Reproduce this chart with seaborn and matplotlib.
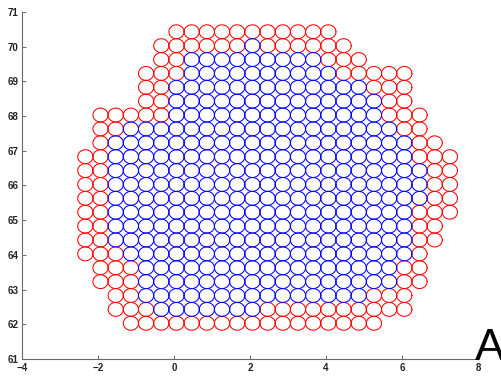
import numpy as np
import pandas as pd
import seaborn as sns
import matplotlib
matplotlib.use("Agg")
import matplotlib.pyplot as plt

# Lattice of cell centres (column x positions, row y positions)
col_x = [-2.34, -1.94, -1.54, -1.14, -0.74, -0.34, 0.06, 0.46, 0.86, 1.26,
         1.66, 2.06, 2.46, 2.86, 3.26, 3.66, 4.06, 4.46, 4.86, 5.26,
         5.66, 6.06, 6.46, 6.86, 7.26]
row_y = [62.03, 62.43, 62.83, 63.23, 63.63, 64.03, 64.43, 64.83, 65.23, 65.63,
         66.03, 66.43, 66.83, 67.23, 67.63, 68.03, 68.43, 68.83, 69.23, 69.63,
         70.03, 70.43]

# First and last occupied column of every row (bottom row first)
row_first = [3, 2, 2, 1, 1, 0, 0, 0, 0, 0, 0, 0, 0, 1, 1, 1, 4, 4, 4, 5, 5, 6]
row_last = [19, 21, 21, 22, 22, 22, 23, 23, 24, 24, 24, 24, 24, 23, 22, 22,
            21, 21, 21, 18, 17, 16]

# Columns of the edge cells (red) in every row; the rest are core cells (blue)
edge_cols = [
    list(range(3, 20)),
    [2, 3, 4] + list(range(12, 22)),
    [2, 3, 19, 20, 21],
    [1, 2, 3, 21, 22],
    [1, 2, 3, 21, 22],
    [0, 1, 2, 22],
    [0, 1, 22, 23],
    [0, 1, 22, 23],
    [0, 1, 22, 23, 24],
    [0, 1, 23, 24],
    [0, 1, 23, 24],
    [0, 1, 23, 24],
    [0, 1, 22, 23, 24],
    [1, 22, 23],
    [1, 2, 21, 22],
    [1, 2, 3, 4, 5, 20, 21, 22],
    [4, 5, 20, 21],
    [4, 5, 19, 20, 21],
    [4, 5, 6, 17, 18, 19, 20, 21],
    [5, 6, 16, 17, 18],
    [5, 6, 7, 8, 9, 10, 12, 13, 14, 15, 16, 17],
    list(range(6, 17)),
]

cell_radius = 0.2

# Outline points of every cell, drawn as circles in data space
theta = np.linspace(0, 2 * np.pi, 61)
records = []
cell_id = 0
for j, yc in enumerate(row_y):
    for k in range(row_first[j], row_last[j] + 1):
        kind = "edge" if k in edge_cols[j] else "core"
        xs = col_x[k] + cell_radius * np.cos(theta)
        ys = yc + cell_radius * np.sin(theta)
        for order, (px, py) in enumerate(zip(xs, ys)):
            records.append((cell_id, kind, order, px, py))
        cell_id += 1
cells = pd.DataFrame(records, columns=["cell", "kind", "order", "x", "y"])

sns.set_theme(style="white")
plt.rcParams["font.family"] = ["Liberation Sans", "DejaVu Sans"]

fig = plt.figure(figsize=(5.01, 3.76), dpi=100)
ax = fig.add_axes([0.0445, 0.0452, 0.9096, 0.9229])

sns.lineplot(data=cells, x="x", y="y", units="cell", estimator=None,
             hue="kind", palette={"edge": "#ff0000", "core": "#0000ff"},
             sort=False, linewidth=0.75, legend=False, ax=ax)

ax.set_xlim(-4, 8)
ax.set_ylim(61, 71)
ax.set_xticks([-4, -2, 0, 2, 4, 6, 8])
ax.set_yticks(list(range(61, 72)))
ax.set_xlabel("")
ax.set_ylabel("")

for side in ("top", "right"):
    ax.spines[side].set_visible(False)
for side in ("left", "bottom"):
    ax.spines[side].set_color("#6a6a6a")
    ax.spines[side].set_linewidth(0.8)

ax.tick_params(direction="in", length=3, width=0.7, color="#6a6a6a",
               labelsize=7, pad=3, left=True, bottom=True)
for lab in ax.get_xticklabels() + ax.get_yticklabels():
    lab.set_fontweight("bold")
    lab.set_color("#222222")

fig.text(0.948, 0.043, "A", fontsize=32, color="black",
         ha="left", va="baseline")

fig.savefig("out.png", dpi=100)
